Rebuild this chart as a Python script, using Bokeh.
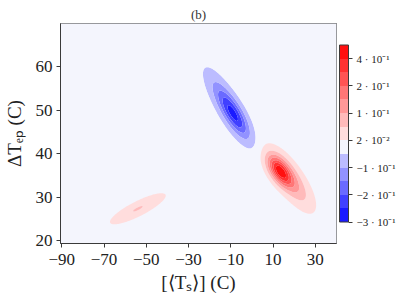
import numpy as np
from bokeh.plotting import figure
from bokeh.models import ColorBar, LinearColorMapper, FixedTicker
from bokeh.embed import file_html
from bokeh.resources import INLINE

# ---- data ----
# Gaussian components of the field: centre (x, y), amplitude, spread along / across, angle (deg)
blob_cx = [-12.0, -8.0, 18.2, 13.0, -54.0]
blob_cy = [51.5, 48.6, 34.0, 36.0, 27.3]
blob_amp = [-0.12, -0.17, 0.15, 0.30, 0.088]
blob_s_along = [11.0, 8.0, 10.5, 5.5, 10.0]
blob_s_across = [3.1, 2.8, 3.8, 2.8, 2.4]
blob_angle = [-59.0, -59.0, -55.0, -55.0, 26.6]

levels = [-0.3, -0.245, -0.19, -0.135, -0.08, -0.025, 0.03, 0.085, 0.14, 0.195, 0.25, 0.305, 0.36, 0.415]
band_colors = ["#1a1aff", "#4040ff", "#6a6aff", "#9292ff", "#bcbcff", "#f4f5fd",
               "#ffdddd", "#ffbaba", "#ff9898", "#ff7676", "#ff5454", "#ff3232", "#ff1010"]

x_ticks = [-90, -70, -50, -30, -10, 10, 30]
x_tick_labels = ["−90", "−70", "−50", "−30", "−10", "10", "30"]
y_ticks = [20, 30, 40, 50, 60]
y_tick_labels = ["20", "30", "40", "50", "60"]
cbar_tick_index = [0, 2, 4, 6, 8, 10, 12]
cbar_tick_labels = ["−3 · 10⁻¹", "−2 · 10⁻¹", "−1 · 10⁻¹", "2 · 10⁻²", "1 · 10⁻¹", "2 · 10⁻¹", "4 · 10⁻¹"]

x_lo, x_hi = -90.6, 40.0
y_lo, y_hi = 19.3, 70.0
aspect = 2.03  # y unit shown about twice as long as x unit

# ---- field ----
gx = np.linspace(x_lo - 1, x_hi + 1, 300)
gy = np.linspace(y_lo - 1, y_hi + 1, 260)
X, Y = np.meshgrid(gx, gy)
Z = np.zeros_like(X)
for cx, cy, a, sa, sc, ang in zip(blob_cx, blob_cy, blob_amp, blob_s_along, blob_s_across, blob_angle):
    t = np.deg2rad(ang)
    dx = X - cx
    dy = (Y - cy) * aspect
    u = dx * np.cos(t) + dy * np.sin(t)
    v = -dx * np.sin(t) + dy * np.cos(t)
    Z += a * np.exp(-0.5 * ((u / sa) ** 2 + (v / sc) ** 2))
Z = np.clip(Z, levels[0] + 1e-6, levels[-1] - 1e-6)

SERIF = "Liberation Serif"
DARK = "#3a3a3a"

p = figure(width=403, height=298, x_range=(x_lo, x_hi), y_range=(y_lo, y_hi),
           output_backend="svg", toolbar_location=None, title="(b)",
           min_border_left=57, min_border_right=67, min_border_top=23, min_border_bottom=55)
p.background_fill_color = band_colors[5]
p.border_fill_color = "white"
p.grid.visible = False
p.outline_line_color = DARK
p.outline_line_width = 1

p.title.align = "center"
p.title.text_font = SERIF
p.title.text_font_size = "13px"
p.title.text_font_style = "normal"
p.title.text_color = "#333333"
p.title.standoff = 3

p.contour(x=gx, y=gy, z=Z, levels=levels, fill_color=band_colors, line_color=None)

for ax, ticks, labels in ((p.xaxis, x_ticks, x_tick_labels), (p.yaxis, y_ticks, y_tick_labels)):
    ax.ticker = FixedTicker(ticks=ticks)
    ax.major_label_overrides = {t: l for t, l in zip(ticks, labels)}
    ax.minor_tick_line_color = None
    ax.major_tick_in = 0
    ax.major_tick_out = 4
    ax.major_tick_line_color = DARK
    ax.axis_line_color = DARK
    ax.major_label_text_font = SERIF
    ax.major_label_text_font_size = "17px"
    ax.major_label_text_color = "#222222"
    ax.major_label_standoff = 4
    ax.axis_label_text_font = SERIF
    ax.axis_label_text_font_size = "19px"
    ax.axis_label_text_font_style = "normal"
    ax.axis_label_text_color = "#222222"

p.xaxis.axis_label = "[⟨Tₛ⟩] (C)"
p.yaxis.axis_label = "ΔTₑₚ (C)"
p.xaxis.major_label_standoff = 6
p.xaxis.axis_label_standoff = 4
p.yaxis.axis_label_standoff = 8

mapper = LinearColorMapper(palette=band_colors, low=0, high=len(band_colors))
cb = ColorBar(color_mapper=mapper, ticker=FixedTicker(ticks=cbar_tick_index),
              major_label_overrides={t: l for t, l in zip(cbar_tick_index, cbar_tick_labels)},
              width=9, height=177, location="center", padding=3, margin=0,
              bar_line_color=DARK, major_tick_in=0, major_tick_out=4,
              major_tick_line_color=DARK, label_standoff=4,
              major_label_text_font=SERIF, major_label_text_font_size="11px",
              major_label_text_color="#222222", background_fill_color=None,
              border_line_color=None)
p.add_layout(cb, "right")

open("out.html", "w").write(file_html(p, INLINE))
